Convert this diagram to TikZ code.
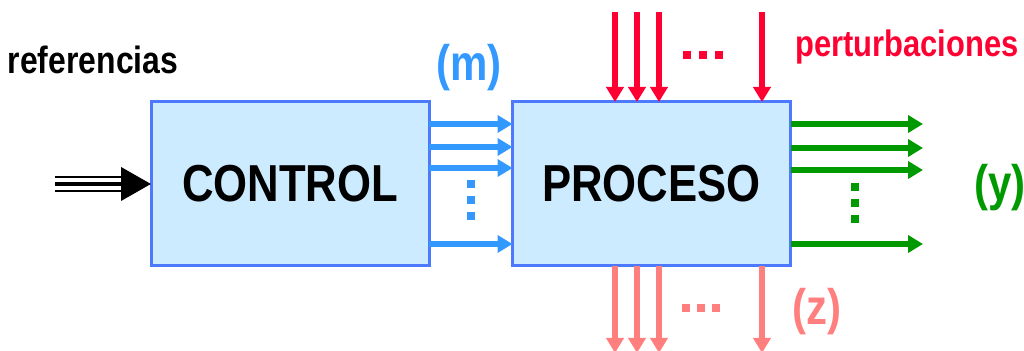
\documentclass[tikz,border=0pt]{standalone}
\usepackage{fontspec}
\setmainfont[FakeStretch=0.84]{Liberation Sans}
\usetikzlibrary{arrows.meta}
\definecolor{boxfill}{HTML}{CCEBFF}
\definecolor{boxline}{HTML}{4D79FF}
\definecolor{mblue}{HTML}{3399FF}
\definecolor{pred}{HTML}{FF0033}
\definecolor{ygreen}{HTML}{009900}
\definecolor{zpink}{HTML}{FF7F7F}
\begin{document}
\begin{tikzpicture}[
  x=0.5pt, y=-0.5pt,
  blk/.style={draw=boxline, line width=1.5pt, fill=boxfill, minimum width=139pt, minimum height=82pt,
    inner sep=0pt, outer sep=0pt, font=\fontsize{26}{30}\selectfont\bfseries},
  sig/.style={line width=3.3pt, -{Triangle[length=7.5pt,width=8.5pt]}},
  lbl/.style={inner sep=0pt, font=\fontsize{25}{30}\selectfont\bfseries},
  txt/.style={inner sep=0pt, font=\fontsize{19}{22}\selectfont\bfseries},
  sq/.style={minimum size=4pt, inner sep=0pt, outer sep=0pt}]
  \useasboundingbox (0,0) rectangle (1024,351);
  \node[blk] (ctrl) at (290,184) {CONTROL};
  \node[blk] (proc) at (651.5,184) {PROCESO};
  % entrada (referencias)
  \coordinate (ref) at (55,184);
  \draw[line width=2pt] (ref) -- (ctrl.west -| 125,0);
  \draw[line width=1pt] ([yshift=3.7pt]ref) -- ([yshift=3.7pt]ctrl.west -| 125,0);
  \draw[line width=1pt] ([yshift=-3.7pt]ref) -- ([yshift=-3.7pt]ctrl.west -| 125,0);
  \draw[line width=2pt, -{Triangle[length=15pt,width=16.5pt]}] (ctrl.west -| 118,0) -- (ctrl.west);
  \node[txt] (reflbl) at (93,60) {referencias};
  % senales de control (m)
  \foreach \y in {124,147,168,244}
    \draw[sig, mblue] (ctrl.east |- 0,\y) -- (proc.west |- 0,\y);
  \foreach \y in {184,200,216} \node[sq, fill=mblue] (md\y) at (471,\y) {};
  \node[lbl, text=mblue] (mlbl) at (469,68) {(m)};
  % perturbaciones
  \foreach \x in {615,637,659,762}
    \draw[sig, pred] (\x,12) -- (proc.north -| \x,0);
  \foreach \x in {687,703,719} \node[sq, fill=pred] (pd\x) at (\x,55) {};
  \node[txt, text=pred, font=\fontsize{18.4}{22}\selectfont\bfseries] (plbl) at (907,47) {perturbaciones};
  % salidas (y)
  \foreach \y in {124,148,170,244}
    \draw[sig, ygreen] (proc.east |- 0,\y) -- (923,\y);
  \foreach \y in {187,203,219} \node[sq, fill=ygreen] (yd\y) at (855,\y) {};
  \node[lbl, text=ygreen] (ylbl) at (1000,188) {(y)};
  % salidas (z)
  \foreach \x in {615,637,659,762}
    \draw[sig, zpink] (proc.south -| \x,0) -- (\x,353);
  \foreach \x in {686,701,716} \node[sq, fill=zpink] (zd\x) at (\x,308) {};
  \node[lbl, text=zpink] (zlbl) at (817,312) {(z)};
\end{tikzpicture}
\end{document}
